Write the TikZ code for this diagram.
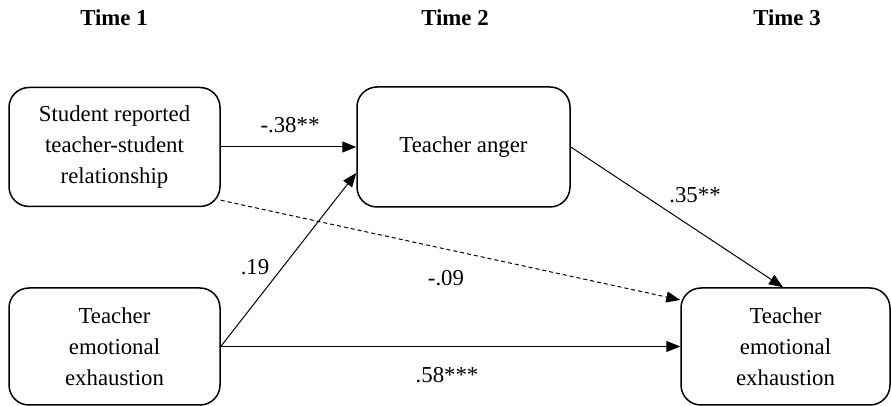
\documentclass[tikz,border=0pt]{standalone}
\usepackage{fontspec}
\setmainfont{Liberation Serif}
\usetikzlibrary{arrows.meta,calc}
\tikzset{
  box/.style={draw, line width=0.75pt, rounded corners=10pt, align=center, inner sep=0pt,
    font=\fontsize{11.4}{15.5}\selectfont},
  lbl/.style={font=\fontsize{11.4}{14}\selectfont, inner sep=0pt},
  title/.style={font=\fontsize{11.4}{14}\selectfont\bfseries, inner sep=0pt},
  conn/.style={line width=0.5pt, -{Triangle[length=7pt,width=5.5pt]}},
}
\begin{document}
\begin{tikzpicture}[x=0.5pt,y=-0.5pt]
\useasboundingbox (0,0) rectangle (891,406);
\node[title] (t1) at (114,18) {Time 1};
\node[title] (t2) at (455,18) {Time 2};
\node[title] (t3) at (787,18) {Time 3};

\node[box, minimum width=105.5pt, minimum height=59.5pt] (A) at (114.5,147) {Student reported\\teacher-student\\relationship};
\node[box, minimum width=106.5pt, minimum height=60pt] (B) at (463.5,147) {Teacher anger};
\node[box, minimum width=105.5pt, minimum height=58.5pt] (C) at (114.5,346.5) {Teacher\\emotional\\exhaustion};
\node[box, minimum width=104.5pt, minimum height=58.5pt] (D) at (785.5,346.5) {Teacher\\emotional\\exhaustion};

\draw[conn] (A.east) -- (B.west);
\draw[conn] (C.east) -- ($(B.west)+(0,26)$);
\draw[conn] (C.east) -- (D.west);
\draw[conn, dash pattern=on 2pt off 1.5pt] ($(A.south east)+(0,-7)$) -- ($(D.west)+(0,-46.5)$);
\draw[conn] (B.east) -- ($(D.north)+(-2.5,0)$);

\node[lbl] (l1) at (290,125) {-.38**};
\node[lbl] (l2) at (255,267) {.19};
\node[lbl] (l3) at (446,278) {-.09};
\node[lbl] (l4) at (695,195) {.35**};
\node[lbl] (l5) at (447,375) {.58***};
\end{tikzpicture}
\end{document}
